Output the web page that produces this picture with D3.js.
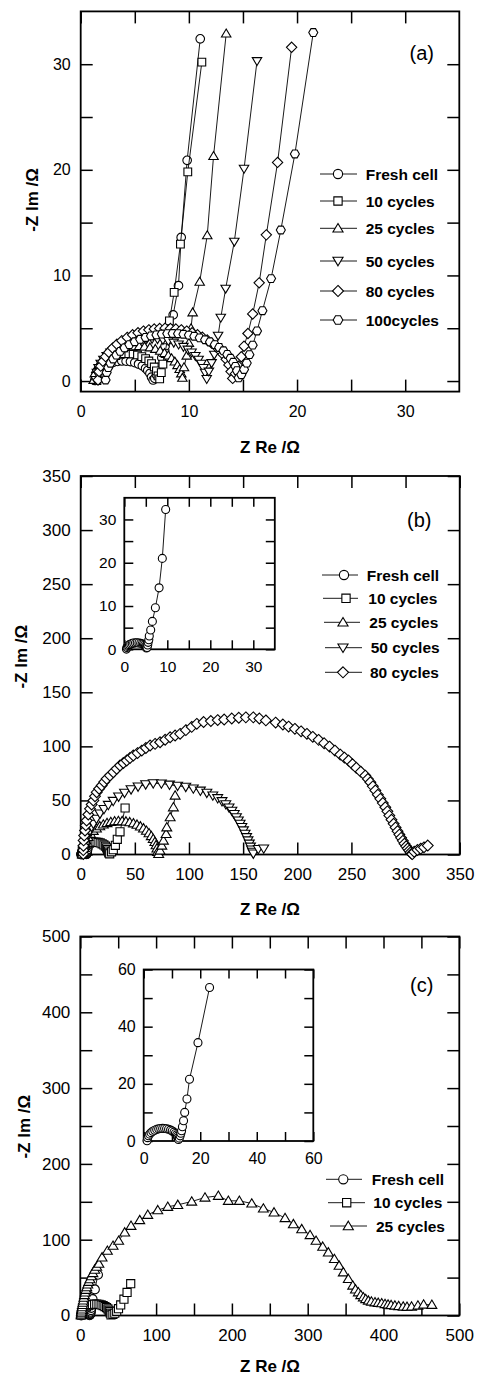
<!DOCTYPE html>
<html><head><meta charset="utf-8">
<script src="https://cdn.jsdelivr.net/npm/d3@7"></script>
<style>body{margin:0;background:#fff} text{font-family:"Liberation Sans",Arial,sans-serif;fill:#000}</style>
</head><body><svg id="c" width="478" height="1378" xmlns="http://www.w3.org/2000/svg"></svg>
<script>
// ---------------- DATA (Z Re, -Z Im) in ohm ----------------
// Panel (a)
const aFresh = [[1.3,0.05],[1.4,0.52],[1.55,0.81],[1.75,1.06],[2.0,1.29],[2.3,1.49],[2.65,1.65],[3.0,1.77],[3.4,1.86],[3.8,1.9],[4.2,1.88],[4.6,1.84],[5.0,1.74],[5.35,1.61],[5.7,1.43],[6.0,1.2],[6.2,1.0],[6.4,0.72],[6.55,0.37],[6.7,0.1],[6.85,0.25],[7.0,0.6],[7.25,1.3],[7.5,2.2],[7.8,3.3],[8.1,4.6],[8.55,6.26],[9.04,9.03],[9.29,13.6],[9.84,20.9],[11.05,32.4]];
const a10 = [[1.5,0.05],[1.6,0.68],[1.75,1.07],[1.95,1.4],[2.2,1.71],[2.5,1.98],[2.85,2.21],[3.25,2.4],[3.65,2.52],[4.05,2.58],[4.45,2.6],[4.85,2.56],[5.25,2.47],[5.65,2.31],[6.0,2.12],[6.3,1.9],[6.55,1.65],[6.8,1.33],[7.0,0.96],[7.15,0.49],[7.3,0.2],[7.45,0.8],[7.6,1.6],[7.8,2.6],[8.0,3.9],[8.2,5.7],[8.64,8.4],[9.22,12.96],[9.9,19.8],[11.2,30.2]];
const a25 = [[1.2,0.1],[1.3,0.72],[1.45,1.13],[1.65,1.5],[1.9,1.84],[2.2,2.16],[2.55,2.45],[2.95,2.7],[3.4,2.92],[3.9,3.1],[4.4,3.22],[4.9,3.28],[5.4,3.3],[5.9,3.26],[6.4,3.18],[6.9,3.04],[7.35,2.86],[7.75,2.65],[8.1,2.41],[8.4,2.16],[8.7,1.84],[8.95,1.5],[9.15,1.13],[9.3,0.72],[9.4,0.3],[9.55,1.3],[9.8,2.4],[10.0,3.6],[10.2,5.0],[10.35,6.5],[11.0,9.4],[11.7,13.8],[12.28,21.3],[13.45,32.9]];
const a50 = [[1.4,0.1],[1.5,0.79],[1.65,1.24],[1.85,1.64],[2.1,2.02],[2.4,2.38],[2.75,2.71],[3.15,3.02],[3.6,3.29],[4.1,3.53],[4.6,3.71],[5.1,3.85],[5.6,3.94],[6.1,3.99],[6.6,4.0],[7.1,3.97],[7.6,3.9],[8.1,3.8],[8.6,3.64],[9.05,3.46],[9.5,3.24],[9.9,2.98],[10.25,2.71],[10.6,2.38],[10.9,2.02],[11.15,1.64],[11.35,1.24],[11.5,0.79],[11.65,0.2],[11.85,0.9],[12.1,1.7],[12.35,2.5],[12.6,3.2],[12.7,4.3],[12.95,6.0],[13.4,8.75],[14.2,13.2],[15.1,20.1],[16.3,30.3]];
const a80 = [[1.6,0.1],[1.7,0.9],[1.85,1.41],[2.05,1.87],[2.3,2.31],[2.6,2.72],[2.95,3.12],[3.35,3.48],[3.8,3.82],[4.3,4.13],[4.8,4.38],[5.3,4.57],[5.8,4.73],[6.3,4.85],[6.8,4.93],[7.3,4.98],[7.8,5.0],[8.3,4.98],[8.8,4.93],[9.3,4.85],[9.8,4.73],[10.3,4.57],[10.8,4.38],[11.25,4.15],[11.7,3.89],[12.1,3.6],[12.5,3.26],[12.85,2.9],[13.15,2.53],[13.45,2.06],[13.7,1.53],[13.9,0.9],[14.05,0.25],[14.3,0.7],[14.6,1.4],[14.85,2.3],[15.1,3.3],[15.46,4.5],[15.9,6.35],[16.5,9.3],[17.16,13.84],[18.2,20.7],[19.5,31.6]];
const a100 = [[2.3,0.1],[2.4,0.81],[2.55,1.27],[2.75,1.69],[3.0,2.09],[3.3,2.46],[3.65,2.81],[4.05,3.14],[4.5,3.45],[5.0,3.72],[5.5,3.95],[6.0,4.13],[6.5,4.27],[7.0,4.37],[7.5,4.45],[8.0,4.49],[8.5,4.5],[9.0,4.48],[9.5,4.43],[10.0,4.35],[10.5,4.24],[11.0,4.09],[11.5,3.91],[11.95,3.7],[12.4,3.45],[12.8,3.18],[13.2,2.86],[13.55,2.52],[13.85,2.15],[14.1,1.78],[14.3,1.39],[14.45,0.98],[14.6,0.3],[14.85,0.6],[15.1,1.1],[15.35,1.7],[15.6,2.5],[15.9,3.4],[16.3,4.74],[16.8,6.66],[17.6,9.7],[18.5,14.3],[19.8,21.5],[21.5,33.0]];

// Panel (b)
const bFresh = [[0.5,0.05],[0.6,0.43],[0.75,0.67],[0.95,0.88],[1.2,1.07],[1.5,1.23],[1.85,1.36],[2.2,1.44],[2.6,1.49],[3.0,1.5],[3.4,1.46],[3.8,1.37],[4.15,1.25],[4.45,1.1],[4.7,0.93],[4.9,0.73],[5.05,0.53],[5.15,0.31],[5.3,0.4],[5.45,1.0],[5.55,1.6],[5.7,2.2],[5.81,3.06],[6.14,4.45],[6.53,6.45],[7.23,9.6],[8.09,14.2],[8.84,21.0],[9.62,32.3]];
const b10 = [[1,0.3],[1.5,3.2],[2.3,5.1],[3.4,6.8],[4.8,8.3],[6.4,9.5],[8.2,10.4],[10.1,11.1],[12.1,11.4],[14.1,11.5],[16.1,11.2],[18.0,10.7],[19.8,9.9],[21.4,8.9],[22.8,7.7],[24.0,6.2],[24.9,4.7],[25.5,3.2],[25.9,1.5],[26.8,0.6],[28.5,2.5],[30.1,4.5],[32,8.5],[33.8,14],[36.3,21],[41,43]];
const b25 = [[1.5,0.3],[2.2,6.2],[3.3,9.9],[4.8,13.2],[6.7,16.3],[9.0,19.2],[11.6,21.9],[14.5,24.2],[17.6,26.2],[20.9,27.8],[24.3,29.1],[27.8,30.1],[31.3,30.7],[34.8,31.0],[38.3,30.9],[41.8,30.6],[45.3,29.9],[48.7,28.9],[52.0,27.6],[55.1,26.0],[58.0,24.2],[60.7,22.0],[63.1,19.7],[65.2,17.1],[67.0,14.4],[68.5,11.6],[69.6,8.7],[70.4,5.7],[71.0,2.5],[72.0,0.6],[73.3,3.7],[74.9,8.3],[76.4,12.9],[78.9,19.1],[79.5,25.2],[82.6,34.5],[85.6,43.7],[87.2,54.5]];
const b50 = [[2.5,0.5],[3,4],[4,8.3],[5.5,14.5],[7,18.8],[8.6,22.2],[10.1,25.5],[11.7,28.4],[14.5,33],[17.8,37.8],[21.5,42],[25.5,45.8],[30,49.5],[35,53.5],[40.5,57],[46.5,60.2],[53,62.8],[60,64.8],[67,65.8],[74.5,65.6],[82,64.5],[89.5,63.5],[97,62.5],[104,61],[110.5,59],[116.5,57],[122,54.5],[126.5,52],[130.5,49.3],[134,46.4],[137,43.4],[139.6,40.4],[141.8,37.3],[143.8,34.3],[145.6,31.3],[147.2,28.3],[148.8,25.3],[150.3,22.2],[151.8,19.1],[153.2,16],[154.5,13],[155.7,10],[156.8,7.2],[157.8,4.6],[158.7,2.4],[159.4,0.8],[164,5],[169,5.5]];
const b80 = [[2.4,0.5],[2.4,4],[2.5,8],[2.7,13],[3.2,17.5],[4,22.2],[4.7,27],[5.5,31.4],[7,37],[8.6,42.2],[10.1,46.2],[11.7,49.9],[13.2,53.8],[14.8,57.6],[17,60.8],[19.4,63.8],[21.7,67],[24,70],[27,73],[30.1,76.1],[33.2,79.2],[36.3,82.3],[39.4,84.6],[42.5,86.9],[45.5,89.2],[48.6,91.5],[52.5,93.8],[56.4,96.1],[60.2,98.5],[64.1,100.8],[68.7,102.3],[73.3,103.8],[78,106.1],[82.6,108.4],[87.2,110],[91.8,111.6],[97.1,115],[102.5,118],[107.2,120.8],[113.5,122.5],[120.2,123.4],[126.5,124.3],[132.5,124.8],[139.5,125.8],[146,126.5],[152.5,126.8],[159.4,126.8],[165,125.8],[171,124],[180,122],[186.7,120.2],[192,118.3],[197.8,116.2],[203.5,113.9],[208.9,111.6],[214.3,108.8],[219.7,106],[224.8,102.9],[229.8,99.8],[234.8,96.1],[239.7,92.4],[243.5,89.6],[247.4,86.9],[251,83.5],[254.5,80.2],[258.6,76.6],[262.8,73],[265.2,69.9],[267.5,66.8],[269.8,63],[272.1,59.2],[274.4,55.3],[276.7,51.5],[279,47.6],[281.3,43.7],[283.2,39.9],[285,36],[287,32.2],[289,28.4],[290.8,25],[292.6,21.6],[294.3,18.4],[295.9,15.4],[297.5,12.6],[299,10],[300.6,7.6],[302,5.5],[303.4,3.6],[304.6,2],[305.6,0.8],[306.2,0.3],[308,2.5],[311,4.2],[314,5.4],[317,6.6],[320.5,8.3]];

// Panel (c)
const cFresh = [[1.2,0.1],[1.4,1.17],[1.7,1.82],[2.1,2.4],[2.6,2.92],[3.2,3.38],[3.9,3.78],[4.6,4.06],[5.3,4.25],[6.0,4.36],[6.7,4.4],[7.4,4.37],[8.1,4.27],[8.8,4.09],[9.5,3.82],[10.1,3.51],[10.7,3.09],[11.2,2.63],[11.6,2.14],[11.9,1.64],[12.1,1.17],[12.3,0.5],[12.6,1.0],[12.9,1.8],[13.15,2.7],[13.4,3.6],[13.7,5.0],[14.1,7.1],[14.5,10],[15.3,14.7],[16.2,21.6],[19.2,34.4],[23.3,53.7]];
const c10 = [[1,0.3],[1.6,3.7],[2.6,5.9],[4,8.0],[5.8,9.9],[8,11.5],[10.5,12.9],[13.2,13.9],[16,14.6],[18.9,14.95],[21.8,15],[24.7,14.7],[27.5,14.0],[30.1,13.1],[32.5,11.8],[34.6,10.4],[36.4,8.7],[37.8,6.9],[38.9,5.0],[39.6,3.0],[40.5,0.8],[43,1.5],[45.5,3],[48,5.5],[50.4,9],[53.3,14],[57.6,21.5],[61.7,30.5],[66.5,42]];
const c25 = [[1,0.5],[1.3,3],[1.6,5.5],[2.0,8],[2.4,11],[2.9,14],[3.4,17],[4,20],[4.7,23.5],[5.5,27],[6.4,30.5],[7.4,34],[8.5,37.5],[9.8,41],[11.2,44.5],[12.8,48],[14.6,52],[16.6,56],[19,60.5],[21.6,64.5],[24.5,68.5],[28.7,76.7],[35.7,85.5],[43.2,92.1],[50.6,98.7],[58.6,109.6],[66.9,118.4],[78.4,125.9],[89,132.9],[102.2,139],[115.4,143.4],[128.6,146],[147,150.4],[164.5,155.7],[182.1,157.9],[195.3,151.3],[209.8,151.3],[226.2,147.8],[241.5,141.2],[255.6,136],[270.1,128.6],[281.1,120.6],[292.1,114],[303.1,106.2],[311,98.7],[319.8,90.8],[327.2,83.3],[335.2,74.6],[341.4,65.8],[347,57],[353.6,48.3],[359.4,39.5],[363,34.5],[366.8,30.7],[370,27],[373.4,24.1],[376.5,21.8],[380,19.7],[384,18.5],[388.8,17.5],[393,16.8],[397.6,16.2],[402,15.2],[406,14.5],[410,13.8],[415,13.2],[420,12.5],[426,11.8],[431,11.5],[437,11.8],[445.4,13.2],[452.9,14.5],[463.8,14.1]];

// Series names and tick values
const namesA = ["Fresh cell","10 cycles","25 cycles","50 cycles","80 cycles","100cycles"];
const namesB = ["Fresh cell","10 cycles","25 cycles","50 cycles","80 cycles"];
const namesC = ["Fresh cell","10 cycles","25 cycles"];
const ticksA = [0,5,10,15,20,25,30], labelsA = [0,10,20,30];
const ticksB = [0,50,100,150,200,250,300,350], labelsB = [0,50,100,150,200,250,300,350];
const ticksC = [0,50,100,150,200,250,300,350,400,450,500], labelsC = [0,100,200,300,400,500];
const ticksBi = [0,5,10,15,20,25,30], labelsBi = [0,10,20,30];
const ticksCiX = [0,10,20,30,40,50,60], labelsCi = [0,20,40,60];

// ---------------- DRAWING ----------------
const svg = d3.select("#c");
svg.append("rect").attr("width",478).attr("height",1378).attr("fill","#fff");

function sym(type, s){
  switch(type){
    case "circle": return `M${-s},0A${s},${s} 0 1,0 ${s},0A${s},${s} 0 1,0 ${-s},0Z`;
    case "square": {const h=s*0.9; return `M${-h},${-h}H${h}V${h}H${-h}Z`;}
    case "up": return `M0,${-s*1.05}L${s*1.1},${s*0.8}L${-s*1.1},${s*0.8}Z`;
    case "down": return `M0,${s*1.05}L${s*1.1},${-s*0.8}L${-s*1.1},${-s*0.8}Z`;
    case "diamond": {const d=s*1.2; return `M0,${-d}L${d},0L0,${d}L${-d},0Z`;}
    case "hex": {const r=s*1.05; let p=""; for(let i=0;i<6;i++){const a=i*Math.PI/3; p+=(i?"L":"M")+(r*Math.cos(a)).toFixed(2)+","+(r*Math.sin(a)).toFixed(2);} return p+"Z";}
  }
}

function panel(cfg){
  const g = svg.append("g");
  const x = d3.scaleLinear().domain(cfg.xd).range(cfg.xr);
  const y = d3.scaleLinear().domain(cfg.yd).range(cfg.yr);
  g.append("rect").attr("x",cfg.xr[0]).attr("y",cfg.yr[1]).attr("width",cfg.xr[1]-cfg.xr[0]).attr("height",cfg.yr[0]-cfg.yr[1]).attr("fill","#fff");
  const fmt = labels => d => labels.includes(d) ? String(d) : "";
  const axes = [
    g.append("g").attr("transform",`translate(0,${cfg.yr[0]})`).call(d3.axisBottom(x).tickValues(cfg.xt).tickSize(-cfg.tl).tickPadding(cfg.xpad).tickFormat(fmt(cfg.xl))),
    g.append("g").attr("transform",`translate(0,${cfg.yr[1]})`).call(d3.axisTop(x).tickValues(cfg.xt).tickSize(-cfg.tl).tickFormat(()=>"")),
    g.append("g").attr("transform",`translate(${cfg.xr[0]},0)`).call(d3.axisLeft(y).tickValues(cfg.yt).tickSize(-cfg.tl).tickPadding(cfg.ypad).tickFormat(fmt(cfg.yl))),
    g.append("g").attr("transform",`translate(${cfg.xr[1]},0)`).call(d3.axisRight(y).tickValues(cfg.yt).tickSize(-cfg.tl).tickFormat(()=>""))
  ];
  axes.forEach(a=>{
    a.select(".domain").remove();
    a.attr("font-family",null).attr("font-size",null);
    a.selectAll("line").attr("stroke","#000").attr("stroke-width",1.5);
    a.selectAll("text").attr("font-size",cfg.fs).attr("fill","#000");
  });
  g.append("rect").attr("x",cfg.xr[0]).attr("y",cfg.yr[1]).attr("width",cfg.xr[1]-cfg.xr[0]).attr("height",cfg.yr[0]-cfg.yr[1])
    .attr("fill","none").attr("stroke","#000").attr("stroke-width",1.8);
  const line = d3.line().x(d=>x(d[0])).y(d=>y(d[1]));
  cfg.series.forEach(s=>{
    const sg = g.append("g");
    sg.append("path").attr("d",line(s.data)).attr("fill","none").attr("stroke","#000").attr("stroke-width",0.9);
    sg.selectAll("path.m").data(s.data).join("path").attr("class","m")
      .attr("transform",d=>`translate(${x(d[0]).toFixed(2)},${y(d[1]).toFixed(2)})`)
      .attr("d",sym(s.shape,cfg.ms)).attr("fill","#fff").attr("stroke","#000").attr("stroke-width",1.1);
  });
  return g;
}

function legend(entries){
  entries.forEach(e=>{
    const g = svg.append("g");
    g.append("line").attr("x1",e.x1).attr("x2",e.x2).attr("y1",e.y).attr("y2",e.y).attr("stroke","#000").attr("stroke-width",0.9);
    g.append("path").attr("transform",`translate(${e.sx},${e.y})`).attr("d",sym(e.shape,4.6)).attr("fill","#fff").attr("stroke","#000").attr("stroke-width",1.1);
    g.append("text").attr("x",e.tx).attr("y",e.y).attr("dy","0.36em").attr("font-size",15.5).attr("font-weight","bold").text(e.name);
  });
}

function axisTitles(xt, yt){
  svg.append("text").attr("x",xt[0]).attr("y",xt[1]).attr("dy","0.36em").attr("text-anchor","middle").attr("font-size",17).attr("font-weight","bold").text("Z Re /Ω");
  svg.append("text").attr("transform",`translate(${yt[0]},${yt[1]}) rotate(-90)`).attr("dy","0.36em").attr("text-anchor","middle").attr("font-size",17).attr("font-weight","bold").text("-Z Im /Ω");
}
function tag(t,x,y){
  svg.append("text").attr("x",x).attr("y",y).attr("dy","0.36em").attr("text-anchor","middle").attr("font-size",20).text(t);
}

const shapesA = ["circle","square","up","down","diamond","hex"];

// Panel (a)
panel({xd:[0,35], yd:[-1,35], xr:[80.7,459.3], yr:[391.6,11.4], xt:ticksA, xl:labelsA, yt:ticksA, yl:labelsA, tl:12, xpad:14, ypad:10, fs:16, ms:4.3,
  series:[aFresh,a10,a25,a50,a80,a100].map((d,i)=>({data:d,shape:shapesA[i]}))});
axisTitles([270,447],[32,200]);
tag("(a)",421.7,53);
legend([174,201,228.3,261,291,320].map((yy,i)=>({y:yy,x1:320,x2:357,sx:338,tx:365.7,shape:shapesA[i],name:namesA[i]})));

// Panel (b)
panel({xd:[0,350], yd:[0,350], xr:[80.7,459.7], yr:[854.5,476], xt:ticksB, xl:labelsB, yt:ticksB, yl:labelsB, tl:12, xpad:13, ypad:10, fs:17, ms:4.5,
  series:[bFresh,b10,b25,b50,b80].map((d,i)=>({data:d,shape:shapesA[i]}))});
panel({xd:[0,35], yd:[0,35], xr:[124.3,274.8], yr:[649.3,497.8], xt:ticksBi, xl:labelsBi, yt:ticksBi, yl:labelsBi, tl:9, xpad:12, ypad:8, fs:15.5, ms:4,
  series:[{data:bFresh,shape:"circle"}]});
axisTitles([270,909],[21,656.7]);
tag("(b)",419.3,519.3);
legend([575,598.3,622.3,647.7,672.3].map((yy,i)=>({y:yy,x1:[322,323,324,325,325][i],x2:[358,358,360,362,362][i],sx:[344,346,343,343,343][i],tx:[366.7,368.3,369.3,370.7,370][i],shape:shapesA[i],name:namesB[i]})));

// Panel (c)
panel({xd:[0,500], yd:[0,500], xr:[80.3,459.3], yr:[1315.5,936.5], xt:ticksC, xl:labelsC, yt:ticksC, yl:labelsC, tl:12, xpad:13, ypad:10, fs:17, ms:4.5,
  series:[cFresh,c10,c25].map((d,i)=>({data:d,shape:shapesA[i]}))});
panel({xd:[0,60], yd:[0,60], xr:[143.7,313.3], yr:[1141,969.5], xt:ticksCiX, xl:labelsCi, yt:ticksCiX, yl:labelsCi, tl:9, xpad:12, ypad:8, fs:16, ms:4,
  series:[{data:cFresh,shape:"circle"}]});
axisTitles([270,1366],[24,1126.7]);
tag("(c)",421.7,985);
legend([1179.3,1202.7,1226].map((yy,i)=>({y:yy,x1:[326,328,330][i],x2:[362,365,367][i],sx:[343.3,346.7,348.3][i],tx:[371.7,373.3,376][i],shape:shapesA[i],name:namesC[i]})));
</script></body></html>
